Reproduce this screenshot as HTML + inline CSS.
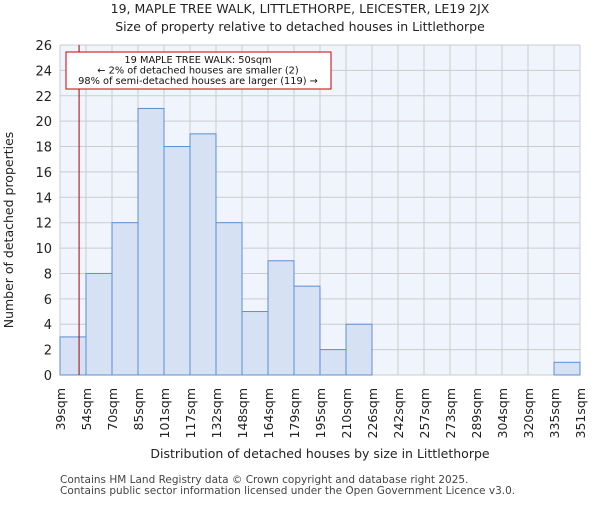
<!DOCTYPE html>
<html><head><meta charset="utf-8"><style>
body{margin:0;background:#fff;font-family:"Liberation Sans","DejaVu Sans",sans-serif}
</style></head><body>
<svg id="chart" width="600" height="500" xmlns="http://www.w3.org/2000/svg" font-family="DejaVu Sans, Liberation Sans, sans-serif">
<text x="300" y="13" text-anchor="middle" font-size="12.5" fill="#222">19, MAPLE TREE WALK, LITTLETHORPE, LEICESTER, LE19 2JX</text>
<text x="300" y="31" text-anchor="middle" font-size="12.5" fill="#222">Size of property relative to detached houses in Littlethorpe</text>
<rect x="60" y="45" width="520" height="330" fill="#f0f4fc"/>
<g id="grid"></g><g id="bars"></g><g id="axes"></g>
<text transform="translate(13,230) rotate(-90)" text-anchor="middle" font-size="12.5" fill="#222">Number of detached properties</text>
<text x="320" y="458" text-anchor="middle" font-size="12.5" fill="#222">Distribution of detached houses by size in Littlethorpe</text>
<text x="60" y="483" font-size="10.5" fill="#444">Contains HM Land Registry data © Crown copyright and database right 2025.</text>
<text x="60" y="494" font-size="10.5" fill="#444">Contains public sector information licensed under the Open Government Licence v3.0.</text>
</svg>
<script>
const binLabels=["39sqm","54sqm","70sqm","85sqm","101sqm","117sqm","132sqm","148sqm","164sqm","179sqm","195sqm","210sqm","226sqm","242sqm","257sqm","273sqm","289sqm","304sqm","320sqm","335sqm","351sqm"];
const binEdges=[39,54,70,85,101,117,132,148,164,179,195,210,226,242,257,273,289,304,320,335,351];
const counts=[3,8,12,21,18,19,12,5,9,7,2,4,0,0,0,0,0,0,0,1];
const yTicks=[0,2,4,6,8,10,12,14,16,18,20,22,24,26];
const markerValue=50;
const X0=60,X1=580,Y0=375,Y1=45,YMAX=26;
const nb=counts.length;
const xi=i=>X0+(X1-X0)*i/nb;
const xv=v=>{for(let i=0;i<binEdges.length-1;i++){if(v<=binEdges[i+1])return xi(i)+(v-binEdges[i])/(binEdges[i+1]-binEdges[i])*(X1-X0)/nb;}return X1;};
const y=v=>Y0-(Y0-Y1)*v/YMAX;
const NS="http://www.w3.org/2000/svg";
function mk(t,a,p){const e=document.createElementNS(NS,t);for(const k in a)e.setAttribute(k,a[k]);p.appendChild(e);return e;}
const g=document.getElementById('grid'),b=document.getElementById('bars'),ax=document.getElementById('axes');
yTicks.forEach(t=>{
 const l=mk('line',{x1:X0,x2:X1,y1:y(t),y2:y(t),stroke:'#ccc','stroke-width':1},g);
 
 
 const tx=mk('text',{x:X0-8,y:y(t)+5,'text-anchor':'end','font-size':13,fill:'#222'},ax);
 tx.textContent=t;
 
 
});
binLabels.forEach((s,i)=>{
 const l=mk('line',{x1:xi(i),x2:xi(i),y1:Y1,y2:Y0,stroke:'#ccc','stroke-width':1},g);
 
 
 const tx=mk('text',{transform:`translate(${xi(i)+5},${Y0+13}) rotate(-90)`,'text-anchor':'end','font-size':12.5,fill:'#222'},ax);
 tx.textContent=s;
 
 
});
counts.forEach((c,i)=>{
 if(c<=0)return;
 const r=mk('rect',{x:xi(i),y:y(c),width:xi(i+1)-xi(i),height:Y0-y(c),fill:'#d6e1f3',stroke:'#5b8fd6','stroke-width':1},b);
 
 
});
const mx=xv(markerValue);
const ml=mk('line',{x1:mx,x2:mx,y1:Y1,y2:Y0,stroke:'#a00','stroke-width':1},ax);


const box=mk('rect',{x:66,y:52,width:265,height:37,fill:'#fff',stroke:'#c00','stroke-width':1},ax);


["19 MAPLE TREE WALK: 50sqm","← 2% of detached houses are smaller (2)","98% of semi-detached houses are larger (119) →"].forEach((s,i)=>{
 const t=mk('text',{x:198,y:63+i*10.5,'text-anchor':'middle','font-size':9.8,fill:'#111'},ax);
 t.textContent=s;
 
 
});
</script>
</body></html>
